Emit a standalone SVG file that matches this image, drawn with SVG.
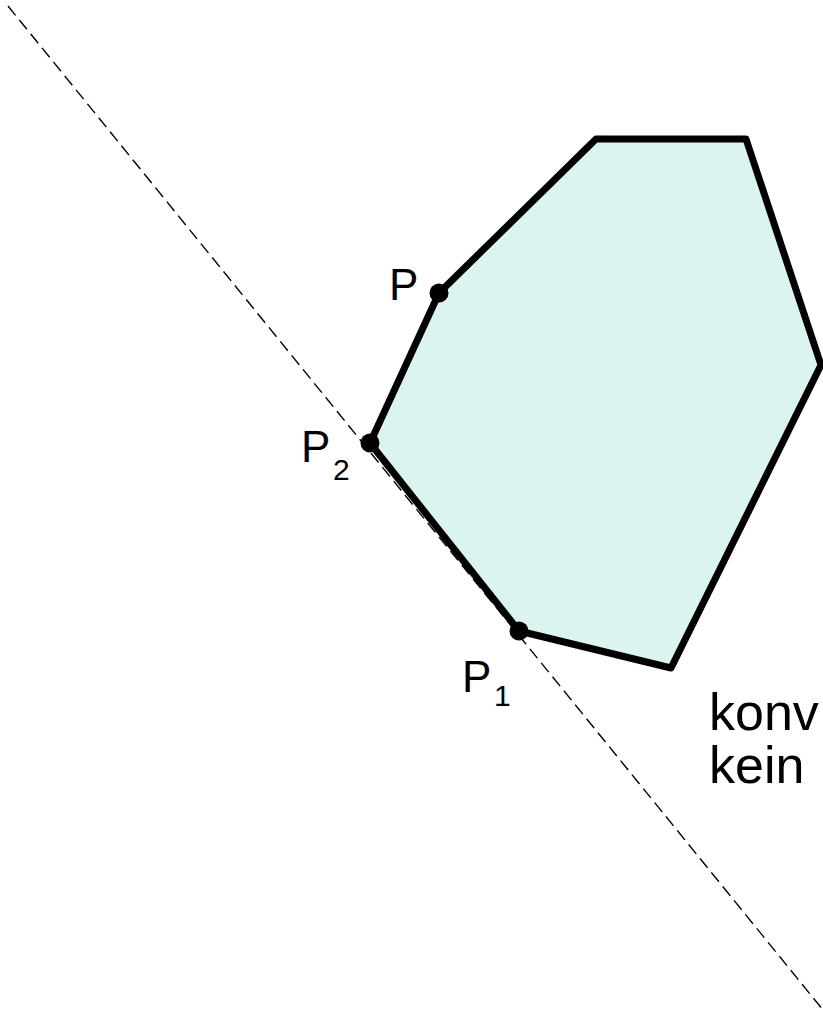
<svg xmlns="http://www.w3.org/2000/svg" width="823" height="1013" viewBox="0 0 823 1013">
<style>
.lbl{font-family:"Liberation Sans",Arial,sans-serif;font-size:44px;fill:#000}
.sub{font-family:"Liberation Sans",Arial,sans-serif;font-size:30px;fill:#000}
.cap{font-family:"Liberation Sans",Arial,sans-serif;font-size:52px;fill:#000}
.dot{fill:#000}
</style>
<rect width="823" height="1013" fill="#fff"/>
<g id="polygon">
<polygon points="596,139 746,139 821,365 671,668 519,631 370,443 439,293" fill="#dbf4f0" stroke="#000" stroke-width="7" stroke-linejoin="round"/>
</g>
<g id="connectors">
<line x1="8" y1="6" x2="823" y2="1010" stroke="#000" stroke-width="1.4" stroke-dasharray="12,6"/>
</g>
<g id="P">
<circle class="dot" cx="439" cy="293" r="9.5"/>
<text class="lbl" x="389" y="300">P</text>
</g>
<g id="P2">
<circle class="dot" cx="370" cy="443" r="9.5"/>
<text class="lbl" x="301" y="462">P</text>
<text class="sub" x="333" y="480">2</text>
</g>
<g id="P1">
<circle class="dot" cx="519" cy="631" r="9.5"/>
<text class="lbl" x="462" y="692">P</text>
<text class="sub" x="494" y="706">1</text>
</g>
<g id="caption">
<text class="cap" x="709" y="730">konv</text>
<text class="cap" x="709" y="783">kein</text>
</g>
</svg>
